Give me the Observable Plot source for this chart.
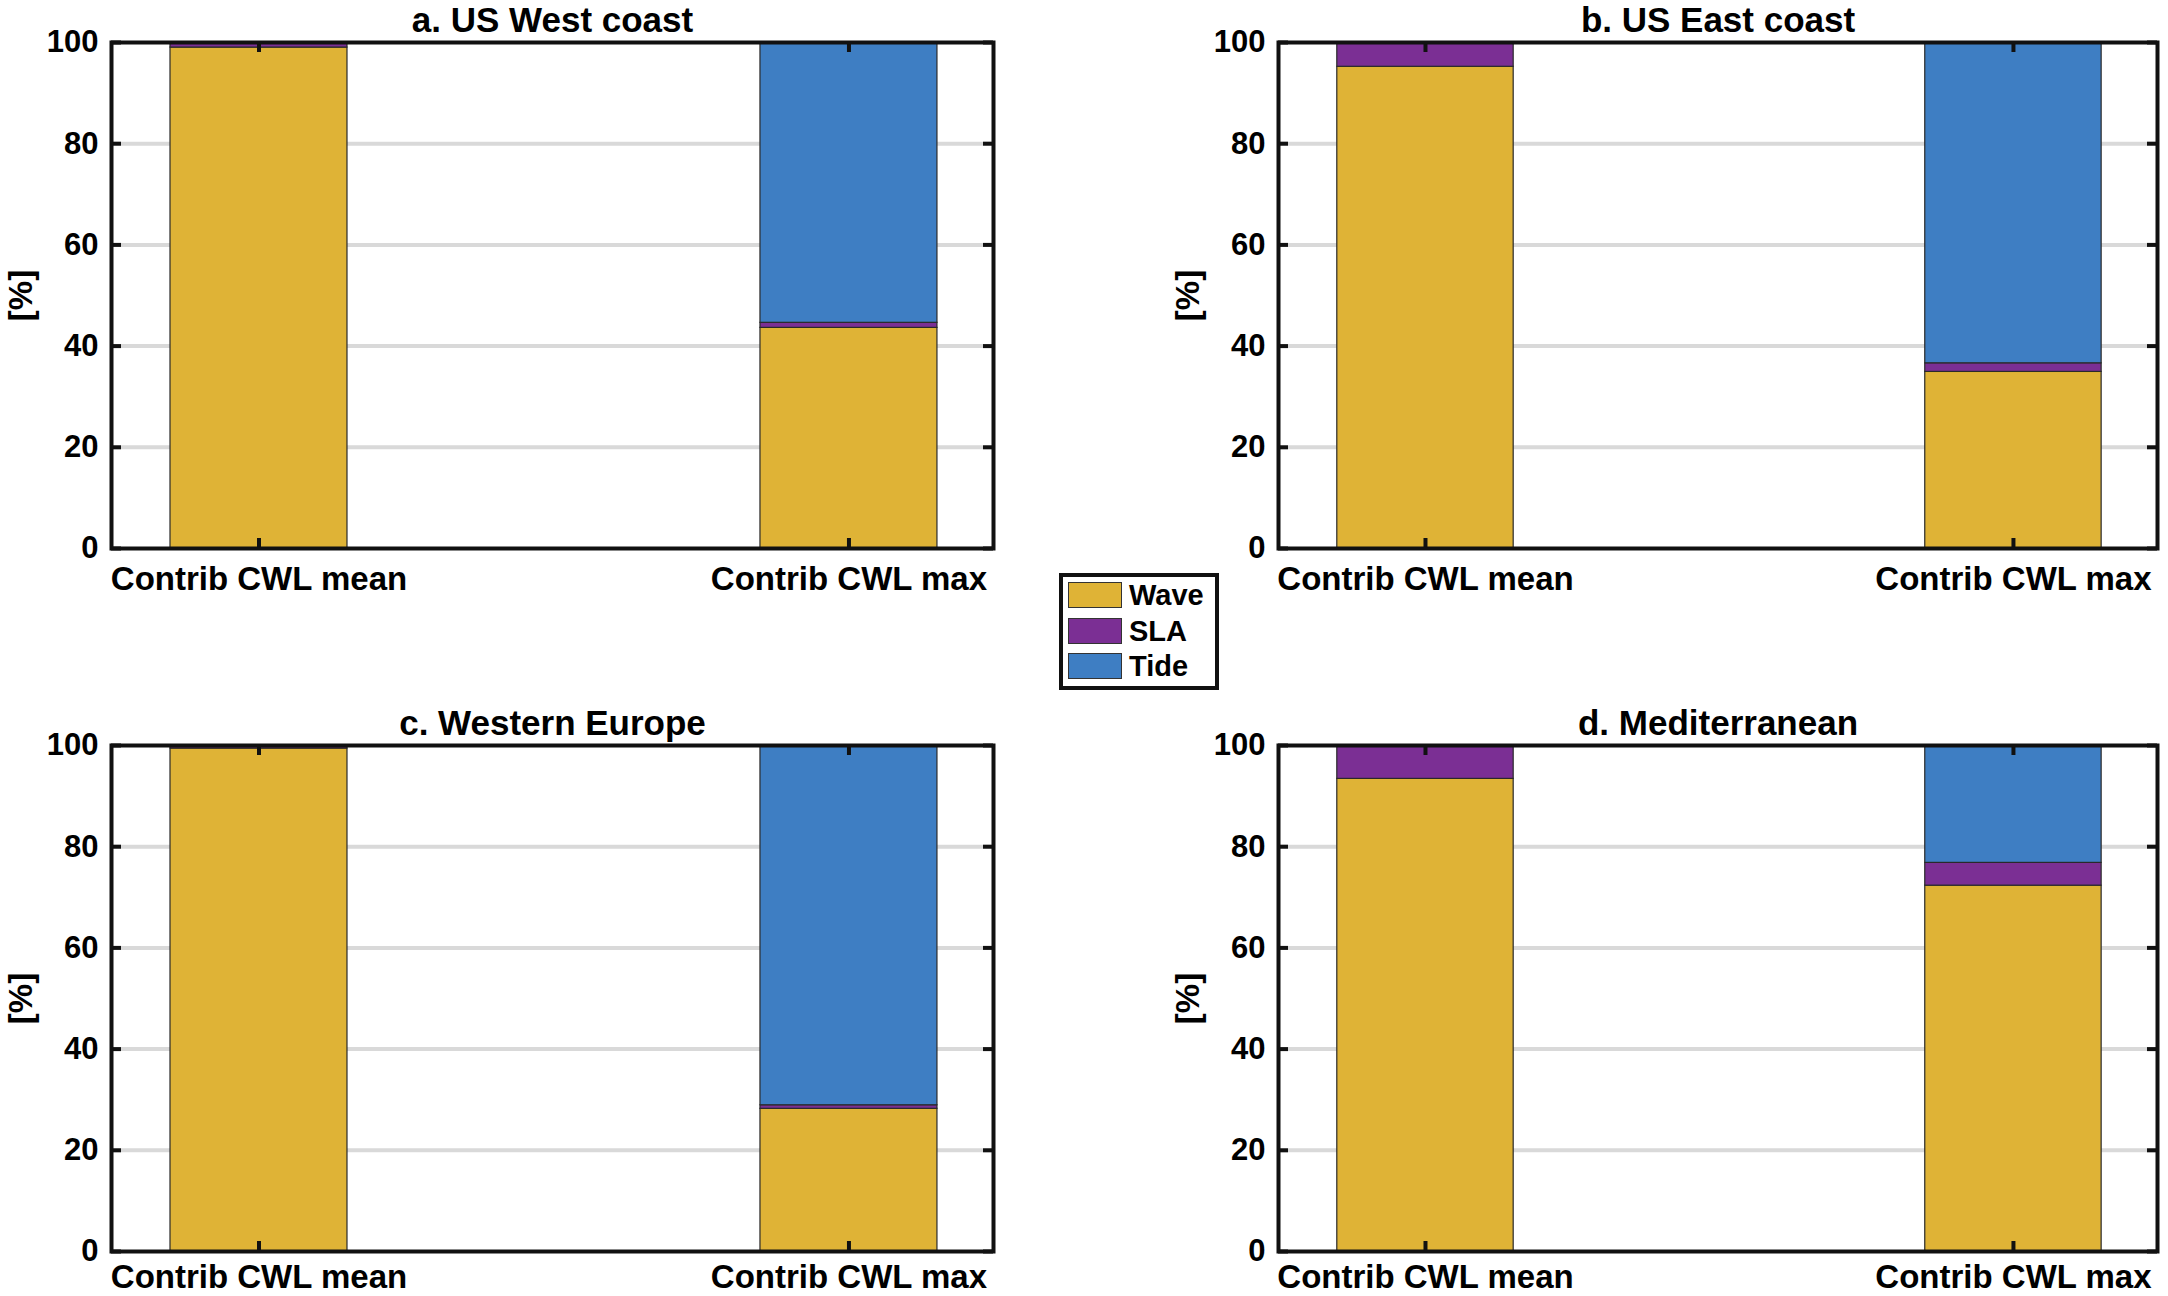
<!DOCTYPE html>
<html>
<head>
<meta charset="utf-8">
<script src="https://cdn.jsdelivr.net/npm/d3@7"></script>
<script src="https://cdn.jsdelivr.net/npm/@observablehq/plot@0.6"></script>
<style>
  body { margin: 0; background: #fff; }
  #chart { position: relative; width: 2168px; height: 1296px; background: #fff; font-family: "Liberation Sans", Arial, sans-serif; overflow: hidden; }
  .panel { position: absolute; }
  #legend { position: absolute; left: 1059px; top: 573px; width: 152px; height: 109px; border: 4px solid #111; background: #fff; }
  .item { position: absolute; left: 5px; height: 28px; display: flex; align-items: center; }
  .sw { width: 54px; height: 26px; border: 1.5px solid #333; box-sizing: border-box; }
  .lab { margin-left: 7px; font-size: 29px; font-weight: bold; color: #000; line-height: 28px; }
</style>
</head>
<body>
<div id="chart"></div>
<script>
// ---- data ----
const regions = ["a. US West coast", "b. US East coast", "c. Western Europe", "d. Mediterranean"];
const categories = ["Contrib CWL mean", "Contrib CWL max"];
const components = ["Wave", "SLA", "Tide"];
const componentColors = ["#dfb336", "#7b2f94", "#3e7ec3"];
// percent contribution per region: [mean, max]
const wave = [[99.0, 43.6], [95.2, 34.9], [99.4, 28.2], [93.4, 72.3]];
const sla  = [[0.9, 1.0], [4.8, 1.7], [0.5, 0.7], [6.6, 4.5]];
const tide = [[0.1, 55.4], [0.0, 63.4], [0.1, 71.1], [0.0, 23.2]];
const yTicks = [0, 20, 40, 60, 80, 100];
const xTicks = [1, 2];

// ---- layout ----
const W = 1084, H = 648;
const layout = [
  {left: 0,    top: 0,   mt: 42, mb: 100, ml: 111, mr: 91, pad: 18},
  {left: 1084, top: 0,   mt: 42, mb: 100, ml: 194, mr: 11, pad: 18},
  {left: 0,    top: 648, mt: 97, mb: 45,  ml: 111, mr: 91, pad: 13},
  {left: 1084, top: 648, mt: 97, mb: 45,  ml: 194, mr: 11, pad: 13}
];
const xDomain = [0.75, 2.245];
const barHalf = 0.15;
const font = "'Liberation Sans', Arial, sans-serif";
const chart = document.getElementById("chart");
const series = [wave, sla, tide];

regions.forEach((region, p) => {
  const L = layout[p];
  const rows = [];
  categories.forEach((cat, i) => {
    components.forEach((comp, k) => {
      rows.push({i: i + 1, comp, value: series[k][p][i]});
    });
  });
  const pxX = (W - L.ml - L.mr) / (xDomain[1] - xDomain[0]);
  const pxY = (H - L.mt - L.mb) / 100;
  const tx = 10 / pxX, ty = 10 / pxY;

  const svg = Plot.plot({
    width: W, height: H,
    marginTop: L.mt, marginBottom: L.mb, marginLeft: L.ml, marginRight: L.mr,
    style: {fontFamily: font, background: "transparent", color: "#000"},
    x: {domain: xDomain},
    y: {domain: [0, 100]},
    color: {domain: components, range: componentColors},
    marks: [
      Plot.gridY(yTicks.filter(v => v > 0 && v < 100), {stroke: "#d9d9d9", strokeOpacity: 1, strokeWidth: 4}),
      Plot.rectY(rows, {x1: d => d.i - barHalf, x2: d => d.i + barHalf, y: "value", fill: "comp", stroke: "#2a2a2a", strokeWidth: 1.2}),
      Plot.ruleX(xTicks, {x: d => d, y1: 0, y2: ty, stroke: "#111", strokeWidth: 4}),
      Plot.ruleX(xTicks, {x: d => d, y1: 100 - ty, y2: 100, stroke: "#111", strokeWidth: 4}),
      Plot.ruleY(yTicks, {y: d => d, x1: xDomain[0], x2: xDomain[0] + tx, stroke: "#111", strokeWidth: 4}),
      Plot.ruleY(yTicks, {y: d => d, x1: xDomain[1] - tx, x2: xDomain[1], stroke: "#111", strokeWidth: 4}),
      Plot.axisY(yTicks, {tickSize: 0, tickPadding: 13, fontSize: 31, fontWeight: "bold", label: null, fill: "#000"}),
      Plot.axisX(xTicks, {tickSize: 0, tickPadding: L.pad, fontSize: 33, fontWeight: "bold", label: null, fill: "#000",
        tickFormat: d => categories[d - 1]}),
      Plot.text(["[%]"], {frameAnchor: "left", textAnchor: "middle", dx: -90, rotate: -90, fontSize: 33, fontWeight: "bold", fill: "#000"}),
      Plot.text([region], {frameAnchor: "top", dy: -22, lineAnchor: "middle", fontSize: 35, fontWeight: "bold", fill: "#000"}),
      Plot.frame({stroke: "#111", strokeWidth: 4})
    ]
  });
  svg.classList.add("panel");
  svg.style.left = L.left + "px";
  svg.style.top = L.top + "px";
  chart.appendChild(svg);
});

// ---- legend ----
const legend = document.createElement("div");
legend.id = "legend";
components.forEach((comp, k) => {
  const item = document.createElement("div");
  item.className = "item";
  item.style.top = (4 + k * 35.5) + "px";
  const sw = document.createElement("div");
  sw.className = "sw";
  sw.style.background = componentColors[k];
  const lab = document.createElement("span");
  lab.className = "lab";
  lab.textContent = comp;
  item.appendChild(sw);
  item.appendChild(lab);
  legend.appendChild(item);
});
chart.appendChild(legend);
</script>
</body>
</html>
